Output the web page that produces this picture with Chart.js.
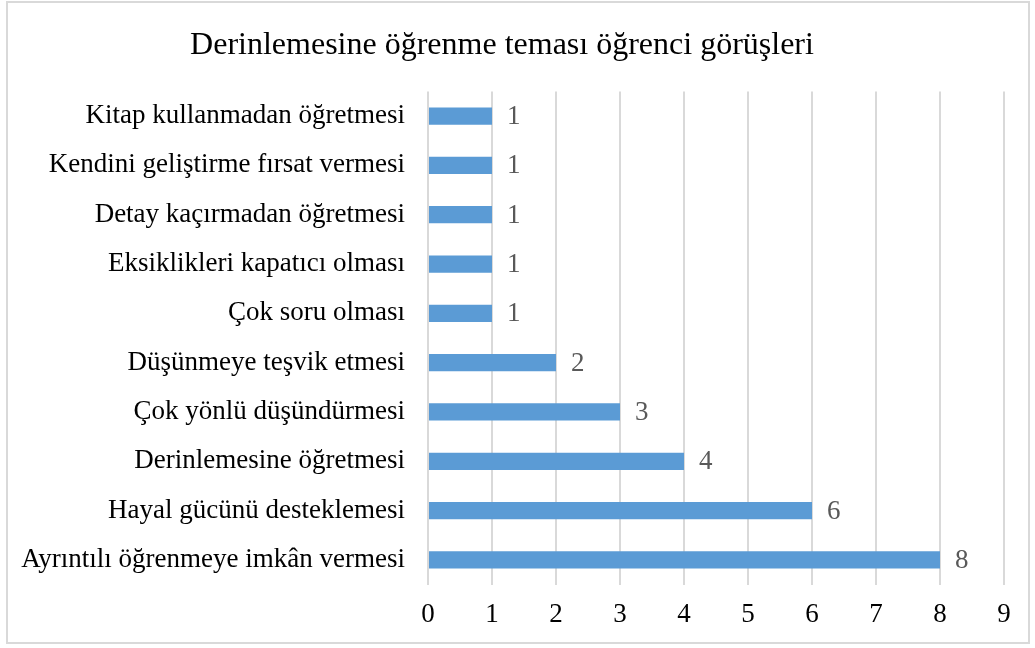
<!DOCTYPE html>
<html>
<head>
<meta charset="utf-8">
<script src="https://cdn.jsdelivr.net/npm/chart.js@4"></script>
<style>
body { margin: 0; background: #fff; }
#wrap { width: 1035px; height: 648px; }
</style>
</head>
<body>
<div id="wrap"><canvas id="bars" width="1035" height="648"></canvas></div>
<script>
var categories = [
    'Kitap kullanmadan öğretmesi',
    'Kendini geliştirme fırsat vermesi',
    'Detay kaçırmadan öğretmesi',
    'Eksiklikleri kapatıcı olması',
    'Çok soru olması',
    'Düşünmeye teşvik etmesi',
    'Çok yönlü düşündürmesi',
    'Derinlemesine öğretmesi',
    'Hayal gücünü desteklemesi',
    'Ayrıntılı öğrenmeye imkân vermesi'
];
var counts = [1, 1, 1, 1, 1, 2, 3, 4, 6, 8];
var xTicks = [0, 1, 2, 3, 4, 5, 6, 7, 8, 9];

var serif = '"Liberation Serif", "Times New Roman", serif';

// frame round the whole chart
var framePlugin = {
    id: 'frame',
    beforeDraw: function (chart) {
        var c = chart.ctx;
        c.save();
        c.fillStyle = '#fff';
        c.fillRect(0, 0, chart.width, chart.height);
        c.strokeStyle = '#d9d9d9';
        c.lineWidth = 2;
        c.strokeRect(7, 2, 1022, 641);
        c.restore();
    }
};

// value labels at the bar ends
var valuePlugin = {
    id: 'values',
    afterDatasetsDraw: function (chart) {
        var c = chart.ctx;
        var meta = chart.getDatasetMeta(0);
        c.save();
        c.font = '27px ' + serif;
        c.fillStyle = '#595959';
        c.textAlign = 'left';
        c.textBaseline = 'middle';
        meta.data.forEach(function (bar, i) {
            c.fillText(String(counts[i]), bar.x + 15, bar.y + 1);
        });
        c.restore();
    }
};

var ctx = document.getElementById('bars').getContext('2d');
var myChart = new Chart(ctx, {
    type: 'bar',
    data: {
        labels: categories,
        datasets: [{
            label: 'Öğrenci görüşleri',
            data: counts,
            backgroundColor: '#5b9bd5',
            borderWidth: 0,
            barPercentage: 0.35,
            categoryPercentage: 1
        }]
    },
    options: {
        indexAxis: 'y',
        responsive: false,
        animation: false,
        layout: { padding: { left: 0, right: 31, top: 0, bottom: 3 } },
        plugins: {
            legend: { display: false },
            tooltip: { enabled: false },
            title: {
                display: true,
                text: 'Derinlemesine öğrenme teması öğrenci görüşleri',
                color: '#000',
                font: { family: serif, size: 32, weight: 'normal' },
                padding: { top: 26, bottom: 27 }
            }
        },
        scales: {
            x: {
                min: 0,
                max: 9,
                afterBuildTicks: function (scale) {
                    scale.ticks = xTicks.map(function (v) { return { value: v }; });
                },
                grid: { color: '#d9d9d9', lineWidth: 2, drawTicks: false },
                border: { display: false },
                ticks: {
                    color: '#000',
                    padding: 14,
                    font: { family: serif, size: 27 }
                }
            },
            y: {
                afterFit: function (scale) { scale.width = 428; },
                grid: { display: false },
                border: { display: false },
                ticks: {
                    color: '#000',
                    padding: 15,
                    autoSkip: false,
                    font: { family: serif, size: 27 }
                }
            }
        }
    },
    plugins: [framePlugin, valuePlugin]
});
</script>
</body>
</html>
